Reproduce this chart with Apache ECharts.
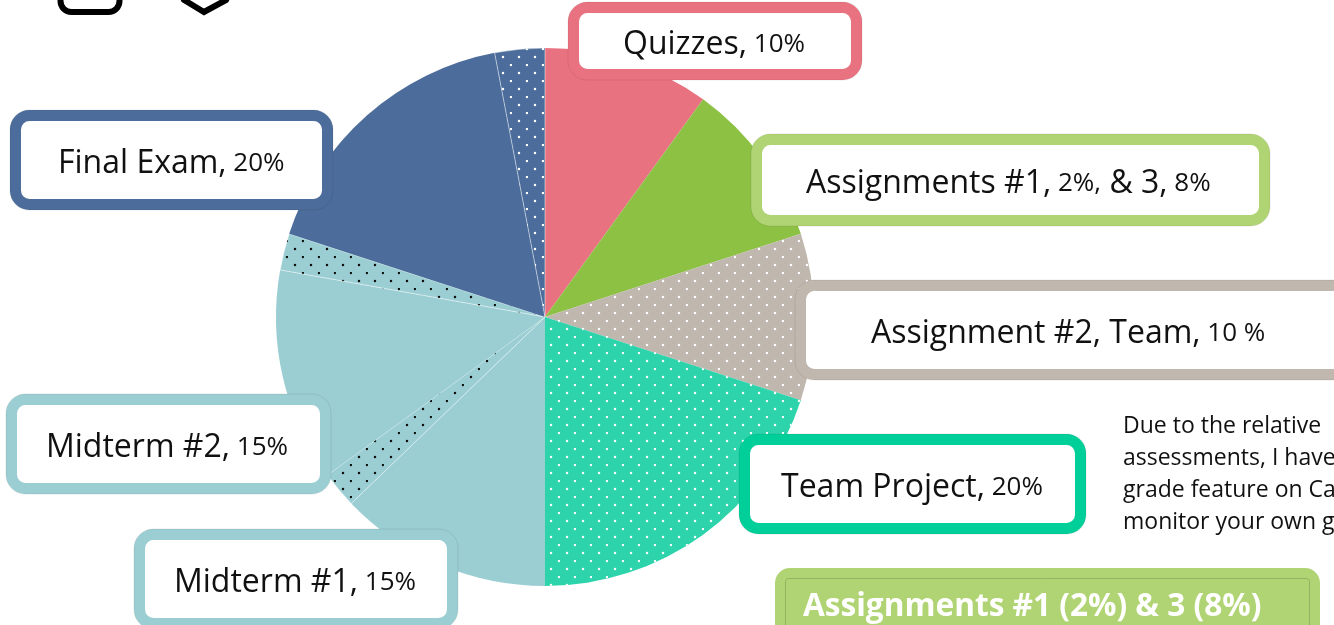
<!DOCTYPE html>
<html>
<head>
    <meta charset="utf-8">
    <title>Grade breakdown</title>
    <script src="https://cdn.jsdelivr.net/npm/echarts@6/dist/echarts.min.js"></script>
    <style type="text/css">
        html, body { margin: 0; padding: 0; background: #fff; overflow: hidden; }
        #main { width: 1334px; height: 625px; }
    </style>
</head>
<body>
<div id="main"></div>
<script type="text/javascript">
    // slices clockwise from 12 o'clock, dotted wedges are split out of their parent assessment
    var sliceNames = ['Quizzes', 'Assignments #1 & 3', 'Assignment #2, Team', 'Team Project',
        'Midterm #1', 'Midterm #1 (dotted)', 'Midterm #2', 'Midterm #2 (dotted)', 'Final Exam', 'Final Exam (dotted)'];
    var sliceValues = [10, 10, 10, 20, 12.8, 2.2, 12.8, 2.2, 17, 3];
    var sliceColors = ['#E97280', '#8CC144', '#C0B7AE', '#2DD4AB', '#9ACED3', '#9ACED3', '#9ACED3', '#9ACED3', '#4C6D9B', '#4C6D9B'];
    var sliceDots = ['', '', '#fff', '#fff', '', '#111', '', '#111', '', '#fff'];
    var sliceEdges = [false, false, false, false, false, true, false, true, false, true];

    var calloutTexts = [
        '{big|Quizzes,}{small| 10%}',
        '{big|Assignments #1,}{small| 2%,}{big| & 3,}{small| 8%}',
        '{big|Assignment #2, Team,}{small| 10 %}',
        '{big|Team Project,}{small| 20%}',
        '{big|Midterm #1,}{small| 15%}',
        '{big|Midterm #2,}{small| 15%}',
        '{big|Final Exam,}{small| 20%}'
    ];
    var noteLines = ['Due to the relative', 'assessments, I have', 'grade feature on Ca', 'monitor your own g'];
    var bannerText = 'Assignments #1 (2%) & 3 (8%)';

    // x, y, w, h of the outer edge, colour, text x
    var calloutBoxes = [
        [568, 2, 294, 78, '#E97280', 623],
        [751, 134, 519, 92, '#B0D473', 806],
        [795, 280, 560, 100, '#C0B7AE', 871],
        [739, 434, 347, 100, '#00CF9A', 781],
        [134, 529, 324, 100, '#9ACED3', 174],
        [6, 394, 325, 100, '#9ACED3', 46],
        [10, 110, 323, 100, '#4C6D9B', 58]
    ];

    var font = '"Open Sans", sans-serif';
    var graphics = [];

    calloutBoxes.forEach(function (b, i) {
        graphics.push({
            type: 'rect', z: 100,
            shape: {x: b[0] + 5.5, y: b[1] + 5.5, width: b[2] - 11, height: b[3] - 11, r: 14},
            style: {fill: '#fff', stroke: b[4], lineWidth: 11}
        });
        graphics.push({
            type: 'rect', z: 100,
            shape: {x: b[0], y: b[1], width: b[2], height: b[3], r: 19},
            style: {fill: 'none', stroke: 'rgba(0,0,0,0.08)', lineWidth: 1}
        });
        graphics.push({
            type: 'text', z: 101, x: b[5], y: b[1] + b[3] / 2 + 4,
            style: {
                text: calloutTexts[i],
                verticalAlign: 'middle',
                fill: '#111',
                rich: {
                    big: {fontFamily: font, fontSize: 32, fill: '#111'},
                    small: {fontFamily: font, fontSize: 26, fill: '#111'}
                }
            }
        });
    });

    noteLines.forEach(function (line, i) {
        graphics.push({
            type: 'text', z: 101, x: 1123, y: 426 + i * 32,
            style: {text: line, fontFamily: font, fontSize: 23, fill: '#111', verticalAlign: 'middle'}
        });
    });

    // green banner, runs off the bottom of the picture
    graphics.push({
        type: 'rect', z: 100,
        shape: {x: 775, y: 568, width: 545, height: 90, r: 15},
        style: {fill: '#B0D473'}
    });
    graphics.push({
        type: 'rect', z: 100,
        shape: {x: 785.5, y: 578.5, width: 524, height: 70, r: 3},
        style: {fill: 'none', stroke: '#93B563', lineWidth: 1}
    });
    graphics.push({
        type: 'text', z: 101, x: 803, y: 607,
        style: {text: bannerText, fontFamily: font, fontSize: 31.6, fontWeight: 'bold', fill: '#fff', verticalAlign: 'middle'}
    });

    // the two icons cut by the top edge
    graphics.push({
        type: 'rect', z: 100,
        shape: {x: 60.5, y: -40, width: 59, height: 52, r: 11},
        style: {fill: 'none', stroke: '#000', lineWidth: 6}
    });
    graphics.push({
        type: 'polyline', z: 100,
        shape: {points: [[181, -6], [184, 0], [204, 12], [226, 0], [229, -6]]},
        style: {fill: 'none', stroke: '#000', lineWidth: 6}
    });

    function dotDecal(color) {
        return {
            symbol: 'circle',
            symbolSize: 1.25,
            color: color,
            dashArrayX: [[0, 6, 2, 8], [0, 14, 2, 0]],
            dashArrayY: [2, 6],
            rotation: 0
        };
    }

    var pieData = sliceNames.map(function (name, i) {
        var item = {name: name, value: sliceValues[i], itemStyle: {color: sliceColors[i]}};
        if (sliceDots[i]) {
            item.itemStyle.decal = dotDecal(sliceDots[i]);
        }
        if (sliceEdges[i]) {
            item.itemStyle.borderColor = 'rgba(255,255,255,0.45)';
            item.itemStyle.borderWidth = 0.6;
        }
        return item;
    });

    var chart = echarts.init(document.getElementById('main'), null, {renderer: 'canvas'});
    chart.setOption({
        animation: false,
        backgroundColor: '#fff',
        graphic: {elements: graphics},
        series: [{
            type: 'pie',
            center: [545, 317],
            radius: [0, 269],
            startAngle: 90,
            clockwise: true,
            label: {show: false},
            labelLine: {show: false},
            emphasis: {disabled: true},
            data: pieData
        }]
    });
</script>
</body>
</html>
